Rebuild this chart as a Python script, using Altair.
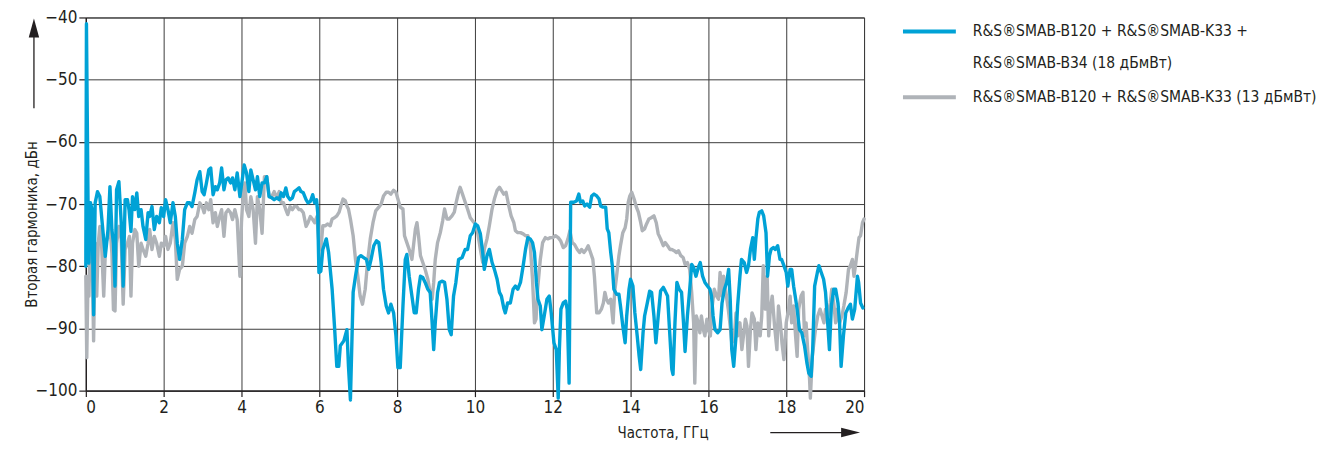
import altair as alt
import pandas as pd

# ---------------- data ----------------
blue_ghz = [0.00, 0.016, 0.057, 0.08, 0.12, 0.16, 0.20, 0.24, 0.30, 0.36, 0.42, 0.50, 0.57, 0.62, 0.67, 0.71, 0.75, 0.79,
            0.85, 0.91, 0.96, 1.01, 1.07, 1.11, 1.16, 1.20, 1.26, 1.31, 1.36, 1.42, 1.47, 1.54, 1.60, 1.64, 1.70, 1.76,
            1.82, 1.89, 1.94, 2.00, 2.05, 2.11, 2.17, 2.24, 2.30, 2.35, 2.41, 2.48, 2.54, 2.61, 2.67, 2.73, 2.80, 2.86,
            2.93, 2.99, 3.04, 3.10, 3.16, 3.21, 3.27, 3.33, 3.38, 3.44, 3.49, 3.55, 3.60, 3.66, 3.72, 3.77, 3.83, 3.89,
            3.96, 4.02, 4.07, 4.13, 4.19, 4.24, 4.30, 4.36, 4.41, 4.47, 4.53, 4.59, 4.65, 4.71, 4.78, 4.84, 4.91, 4.97,
            5.02, 5.08, 5.14, 5.19, 5.25, 5.31, 5.36, 5.42, 5.48, 5.53, 5.59, 5.66, 5.71, 5.77, 5.83, 5.88, 5.93, 5.96,
            5.99, 6.04, 6.09, 6.18, 6.24, 6.33, 6.39, 6.45, 6.50, 6.54, 6.63, 6.71, 6.75, 6.80, 6.87, 6.93, 7.01, 7.07,
            7.14, 7.21, 7.27, 7.33, 7.40, 7.47, 7.53, 7.59, 7.65, 7.72, 7.78, 7.84, 7.91, 7.97, 8.02, 8.08, 8.15, 8.21,
            8.25, 8.31, 8.38, 8.44, 8.49, 8.55, 8.60, 8.66, 8.72, 8.79, 8.85, 8.90, 8.94, 8.98, 9.04, 9.09, 9.15, 9.22,
            9.28, 9.34, 9.39, 9.45, 9.51, 9.58, 9.67, 9.75, 9.81, 9.88, 9.94, 10.01, 10.07, 10.14, 10.20, 10.24, 10.31,
            10.37, 10.44, 10.50, 10.57, 10.63, 10.68, 10.74, 10.78, 10.84, 10.91, 10.98, 11.04, 11.10, 11.17, 11.24,
            11.30, 11.36, 11.42, 11.48, 11.53, 11.58, 11.62, 11.68, 11.72, 11.78, 11.85, 11.91, 11.96, 12.03, 12.09,
            12.14, 12.17, 12.21, 12.27, 12.33, 12.37, 12.42, 12.46, 12.54, 12.61, 12.67, 12.71, 12.77, 12.82, 12.88,
            12.95, 13.00, 13.06, 13.13, 13.19, 13.23, 13.29, 13.36, 13.40, 13.44, 13.49, 13.53, 13.57, 13.64, 13.70,
            13.74, 13.80, 13.86, 13.90, 13.96, 14.00, 14.06, 14.11, 14.17, 14.22, 14.26, 14.32, 14.36, 14.43, 14.49,
            14.54, 14.60, 14.65, 14.71, 14.77, 14.84, 14.89, 14.95, 15.01, 15.06, 15.09, 15.14, 15.19, 15.25, 15.31,
            15.36, 15.40, 15.46, 15.52, 15.57, 15.62, 15.68, 15.74, 15.79, 15.85, 15.91, 15.98, 16.04, 16.08, 16.12,
            16.17, 16.24, 16.30, 16.35, 16.41, 16.47, 16.52, 16.56, 16.60, 16.65, 16.71, 16.75, 16.81, 16.85, 16.92,
            16.98, 17.03, 17.08, 17.14, 17.18, 17.22, 17.27, 17.31, 17.37, 17.42, 17.48, 17.52, 17.57, 17.61, 17.67,
            17.72, 17.78, 17.84, 17.88, 17.94, 18.00, 18.04, 18.10, 18.14, 18.19, 18.23, 18.28, 18.34, 18.40, 18.47,
            18.53, 18.58, 18.64, 18.68, 18.73, 18.80, 18.84, 18.90, 18.96, 19.01, 19.07, 19.11, 19.16, 19.22, 19.27,
            19.33, 19.37, 19.41, 19.47, 19.53, 19.59, 19.65, 19.70, 19.76, 19.83, 19.86, 19.91, 19.97]
blue_db = [-80.0, -41.0, -69.8, -79.5, -69.8, -70.9, -87.8, -69.8, -68.0, -68.8, -73.0, -78.4, -74.1, -67.2, -74.1,
           -76.3, -83.2, -67.7, -66.4, -73.0, -83.2, -69.3, -69.3, -70.9, -74.4, -68.8, -70.9, -68.2, -72.0, -70.9,
           -73.6, -75.7, -71.4, -72.0, -70.4, -74.1, -72.0, -73.0, -70.6, -72.0, -69.3, -70.9, -73.0, -69.8, -72.0,
           -76.3, -78.9, -75.7, -70.9, -69.8, -69.8, -70.4, -68.2, -66.1, -64.8, -68.0, -68.5, -66.6, -64.5, -64.2,
           -68.5, -67.2, -67.7, -66.6, -64.2, -67.7, -66.1, -65.8, -66.6, -65.8, -67.7, -65.0, -68.8, -66.1, -63.7,
           -65.0, -68.0, -64.5, -66.1, -67.7, -65.6, -68.8, -66.6, -66.6, -65.6, -68.8, -69.0, -69.3, -69.0, -69.3,
           -68.2, -68.8, -67.4, -68.8, -69.3, -69.0, -68.0, -67.7, -67.4, -68.0, -68.2, -69.3, -69.8, -69.6, -68.5,
           -69.8, -69.3, -71.4, -81.0, -80.8, -77.3, -75.6, -77.8, -83.7, -89.6, -96.1, -96.1, -92.8, -92.0, -90.2,
           -96.1, -101.5, -84.2, -81.6, -78.6, -78.3, -78.6, -78.9, -80.5, -78.9, -76.7, -75.9, -76.2, -79.4, -83.7,
           -86.4, -87.5, -86.1, -87.5, -91.2, -96.3, -96.3, -86.4, -78.9, -78.1, -81.6, -84.8, -87.5, -87.5, -83.7,
           -81.6, -81.8, -82.6, -83.7, -84.2, -89.1, -93.4, -89.1, -84.2, -82.6, -82.4, -82.6, -85.3, -90.2, -91.0,
           -84.8, -82.6, -78.9, -78.6, -77.3, -77.3, -75.1, -74.6, -73.2, -73.5, -74.8, -77.8, -80.5, -78.3, -77.3,
           -79.4, -80.5, -82.1, -84.2, -84.8, -86.7, -87.5, -85.9, -85.9, -83.7, -83.2, -83.7, -82.6, -79.9, -77.3,
           -75.4, -75.6, -76.2, -77.8, -82.6, -85.3, -86.4, -90.2, -88.0, -85.3, -84.8, -87.5, -92.3, -93.4, -101.2,
           -93.4, -86.9, -85.9, -85.6, -86.9, -98.8, -69.7, -69.7, -69.5, -68.4, -69.7, -69.5, -70.3, -70.0, -70.5,
           -68.7, -68.4, -68.7, -69.2, -70.3, -70.5, -70.5, -74.0, -74.6, -77.8, -79.9, -83.7, -84.5, -84.5, -86.4,
           -89.6, -92.3, -88.0, -83.7, -82.1, -83.2, -87.5, -91.2, -94.5, -96.6, -90.7, -88.0, -85.9, -84.0, -84.2,
           -88.0, -92.3, -88.0, -84.0, -83.4, -84.0, -84.8, -91.2, -96.6, -97.4, -89.1, -82.6, -83.7, -84.2, -89.1,
           -93.7, -88.0, -83.7, -79.7, -80.2, -81.6, -80.2, -79.4, -81.6, -82.6, -83.2, -83.7, -84.8, -88.0, -90.2,
           -90.7, -90.2, -85.9, -83.7, -82.6, -80.5, -85.3, -93.4, -96.1, -91.2, -86.4, -81.6, -78.9, -79.4, -81.0,
           -79.9, -77.3, -75.4, -78.9, -75.6, -72.4, -71.3, -71.1, -71.9, -74.6, -81.6, -78.3, -77.3, -77.0, -77.3,
           -76.7, -78.9, -78.9, -79.9, -81.0, -83.2, -80.5, -80.5, -83.2, -84.8, -86.9, -90.2, -90.7, -92.8, -95.5,
           -97.2, -97.7, -93.4, -83.2, -81.0, -79.9, -81.0, -82.1, -84.2, -89.6, -93.4, -86.4, -83.7, -83.7, -85.9,
           -89.1, -96.1, -91.2, -87.5, -86.7, -86.1, -88.5, -86.9, -81.6, -82.6, -85.9, -86.7]

gray_ghz = [0.00, 0.024, 0.057, 0.08, 0.12, 0.16, 0.20, 0.24, 0.28, 0.32, 0.36, 0.40, 0.46, 0.51, 0.57, 0.62, 0.67, 0.71,
            0.75, 0.79, 0.85, 0.91, 0.96, 1.01, 1.07, 1.12, 1.16, 1.20, 1.26, 1.31, 1.36, 1.42, 1.47, 1.54, 1.60, 1.64,
            1.70, 1.76, 1.82, 1.89, 1.94, 2.00, 2.05, 2.11, 2.17, 2.24, 2.30, 2.35, 2.41, 2.48, 2.54, 2.61, 2.67, 2.73,
            2.80, 2.86, 2.93, 2.99, 3.04, 3.10, 3.16, 3.21, 3.27, 3.33, 3.38, 3.44, 3.49, 3.55, 3.60, 3.66, 3.72, 3.77,
            3.83, 3.89, 3.96, 4.00, 4.04, 4.09, 4.13, 4.19, 4.24, 4.30, 4.36, 4.41, 4.47, 4.53, 4.59, 4.65, 4.71, 4.78,
            4.84, 4.91, 4.97, 5.02, 5.08, 5.14, 5.19, 5.25, 5.31, 5.36, 5.42, 5.48, 5.53, 5.59, 5.66, 5.71, 5.77, 5.83,
            5.88, 5.94, 5.99, 6.04, 6.09, 6.15, 6.21, 6.28, 6.33, 6.39, 6.45, 6.51, 6.57, 6.61, 6.67, 6.71, 6.75, 6.80,
            6.87, 6.93, 6.99, 7.05, 7.11, 7.18, 7.24, 7.31, 7.38, 7.45, 7.53, 7.59, 7.65, 7.72, 7.78, 7.84, 7.91, 7.97,
            8.02, 8.08, 8.15, 8.19, 8.25, 8.31, 8.38, 8.43, 8.47, 8.51, 8.55, 8.60, 8.66, 8.72, 8.79, 8.85, 8.90, 8.94,
            8.98, 9.04, 9.11, 9.17, 9.22, 9.28, 9.34, 9.41, 9.47, 9.52, 9.58, 9.62, 9.68, 9.75, 9.81, 9.88, 9.94, 10.01,
            10.07, 10.14, 10.20, 10.24, 10.31, 10.37, 10.44, 10.50, 10.57, 10.63, 10.68, 10.74, 10.80, 10.87, 10.93,
            11.00, 11.04, 11.10, 11.17, 11.24, 11.30, 11.36, 11.42, 11.48, 11.53, 11.57, 11.61, 11.68, 11.74, 11.81,
            11.87, 11.94, 12.00, 12.07, 12.14, 12.20, 12.27, 12.33, 12.39, 12.44, 12.50, 12.56, 12.63, 12.69, 12.74,
            12.80, 12.86, 12.91, 12.97, 13.03, 13.07, 13.13, 13.19, 13.25, 13.30, 13.34, 13.38, 13.43, 13.49, 13.55,
            13.59, 13.64, 13.70, 13.74, 13.80, 13.86, 13.90, 13.94, 13.98, 14.03, 14.09, 14.15, 14.20, 14.26, 14.30,
            14.36, 14.41, 14.47, 14.53, 14.60, 14.66, 14.71, 14.77, 14.84, 14.89, 14.95, 15.01, 15.06, 15.12, 15.18,
            15.23, 15.29, 15.35, 15.40, 15.46, 15.52, 15.57, 15.62, 15.65, 15.69, 15.74, 15.78, 15.82, 15.87, 15.91,
            15.96, 16.00, 16.05, 16.09, 16.15, 16.21, 16.26, 16.30, 16.35, 16.39, 16.45, 16.51, 16.56, 16.60, 16.66,
            16.71, 16.75, 16.81, 16.86, 16.91, 16.95, 16.99, 17.03, 17.08, 17.12, 17.18, 17.22, 17.27, 17.33, 17.37,
            17.41, 17.46, 17.51, 17.55, 17.59, 17.64, 17.70, 17.76, 17.80, 17.85, 17.89, 17.94, 18.00, 18.06, 18.10,
            18.14, 18.19, 18.24, 18.28, 18.32, 18.38, 18.43, 18.47, 18.51, 18.55, 18.60, 18.62, 18.67, 18.71, 18.75,
            18.81, 18.87, 18.92, 18.97, 19.01, 19.07, 19.13, 19.17, 19.22, 19.27, 19.31, 19.37, 19.43, 19.48, 19.54,
            19.60, 19.65, 19.70, 19.74, 19.78, 19.83, 19.87, 19.91, 19.96, 20.00]
gray_db = [-81.6, -94.7, -81.6, -84.8, -73.0, -76.3, -92.0, -76.3, -84.8, -76.3, -73.6, -75.7, -84.8, -76.3, -75.2,
           -73.6, -77.9, -87.0, -87.2, -76.3, -73.6, -75.7, -86.1, -77.3, -76.3, -75.2, -84.8, -76.3, -74.1, -74.7,
           -80.0, -76.3, -77.3, -78.4, -76.3, -74.1, -77.3, -75.2, -76.3, -78.4, -76.3, -76.8, -75.2, -77.3, -76.3,
           -73.0, -75.7, -82.1, -80.5, -80.0, -76.3, -75.2, -73.6, -74.7, -72.5, -72.0, -69.8, -70.4, -71.4, -69.8,
           -70.9, -69.3, -73.0, -71.4, -73.6, -72.0, -70.9, -75.2, -71.4, -70.9, -71.4, -72.5, -70.9, -72.5, -81.6,
           -73.0, -68.8, -66.6, -70.9, -72.0, -68.8, -70.9, -76.3, -68.8, -70.9, -74.7, -65.6, -65.6, -68.8, -68.8,
           -68.0, -69.0, -68.0, -69.8, -69.8, -70.9, -71.7, -70.4, -70.9, -70.4, -70.4, -70.9, -70.9, -71.4, -73.6,
           -73.0, -72.0, -72.5, -73.0, -72.0, -76.3, -77.3, -73.5, -73.5, -73.2, -73.5, -72.4, -72.2, -71.9, -71.3,
           -70.0, -69.2, -69.5, -70.3, -70.8, -72.4, -75.1, -78.9, -81.6, -84.8, -86.1, -83.7, -79.4, -75.6, -73.0,
           -71.1, -70.5, -70.0, -68.7, -68.1, -68.1, -68.4, -67.8, -68.1, -69.2, -70.5, -70.8, -75.1, -76.2, -77.3,
           -78.9, -76.2, -74.0, -73.0, -75.1, -78.3, -79.4, -80.5, -82.1, -84.2, -85.3, -82.6, -78.9, -76.2, -74.6,
           -72.7, -70.8, -72.4, -72.4, -71.9, -71.3, -69.7, -68.1, -67.3, -68.4, -69.7, -70.8, -72.2, -72.7, -73.2,
           -74.6, -77.3, -79.4, -77.3, -75.6, -73.5, -70.8, -69.2, -67.8, -67.3, -67.8, -68.4, -68.1, -70.3, -71.9,
           -73.0, -74.3, -74.6, -74.6, -74.8, -75.1, -75.1, -76.5, -82.1, -89.1, -88.5, -83.7, -78.9, -76.2, -75.4,
           -75.6, -75.4, -75.4, -75.1, -75.4, -75.9, -77.0, -76.7, -75.6, -74.3, -76.2, -76.5, -77.3, -77.8, -77.3,
           -77.8, -77.3, -76.7, -77.8, -78.9, -81.6, -87.5, -87.5, -86.9, -85.9, -84.2, -85.3, -85.9, -85.3, -89.1,
           -84.2, -81.6, -78.3, -76.7, -74.6, -73.8, -72.4, -69.7, -68.7, -68.1, -69.2, -70.5, -71.3, -73.0, -74.3,
           -74.0, -73.2, -72.4, -72.2, -71.9, -73.0, -74.8, -75.6, -76.7, -76.2, -76.7, -77.3, -77.3, -77.5, -77.8,
           -77.5, -78.3, -78.6, -79.7, -79.4, -80.5, -84.2, -89.1, -98.8, -88.0, -89.1, -90.7, -88.0, -90.2, -91.2,
           -88.5, -90.2, -91.2, -86.9, -83.7, -84.8, -85.3, -81.0, -84.8, -81.6, -84.2, -86.9, -89.6, -92.3, -91.8,
           -87.5, -91.2, -89.1, -93.4, -90.7, -88.5, -89.6, -96.1, -90.2, -87.5, -88.5, -93.4, -89.1, -91.2, -88.0,
           -79.9, -86.9, -81.6, -91.2, -86.9, -84.8, -89.6, -93.4, -86.4, -89.1, -92.3, -95.0, -89.1, -86.9, -84.8,
           -89.1, -86.4, -91.2, -94.5, -86.9, -84.8, -84.2, -91.2, -89.1, -93.4, -98.2, -101.2, -94.5, -92.3, -90.2,
           -88.0, -86.9, -88.0, -89.1, -86.9, -88.0, -85.9, -83.7, -85.9, -89.1, -86.9, -89.1, -88.0, -86.4, -84.2,
           -80.5, -79.9, -78.9, -81.6, -79.9, -77.3, -75.4, -75.1, -73.0, -72.4]

x_ticks = [0, 2, 4, 6, 8, 10, 12, 14, 16, 18, 20]
y_ticks = [-100, -90, -80, -70, -60, -50, -40]

series = ["R&S®SMAB-B120 + R&S®SMAB-K33 + R&S®SMAB-B34 (18 дБмВт)",
          "R&S®SMAB-B120 + R&S®SMAB-K33 (13 дБмВт)"]
legend_lines = ["R&S®SMAB-B120 + R&S®SMAB-K33 +",
                "R&S®SMAB-B34 (18 дБмВт)",
                "R&S®SMAB-B120 + R&S®SMAB-K33 (13 дБмВт)"]

# ---------------- styling ----------------
BLUE = "#00A2D6"
GRAY = "#AFB3B8"
INK = "#231F20"
GRID = "#3C3C3C"
FONT = "DejaVu Sans Condensed, Liberation Sans Narrow, Roboto, sans-serif"

blue_df = pd.DataFrame({"ghz": blue_ghz, "db": blue_db, "series": series[0]})
gray_df = pd.DataFrame({"ghz": gray_ghz, "db": gray_db, "series": series[1]})

x_enc = alt.X("ghz:Q",
              scale=alt.Scale(domain=[0, 20], nice=False, zero=False),
              axis=alt.Axis(values=x_ticks, title="Частота, ГГц", format="d",
                            titleX=578, titleY=47, titleAlign="center",
                            titleBaseline="alphabetic", titleAnchor="start"))
y_enc = alt.Y("db:Q",
              scale=alt.Scale(domain=[-100, -40], nice=False, zero=False),
              axis=alt.Axis(values=y_ticks, title="Вторая гармоника, дБн", format="d",
                            titleAngle=270, titleX=-49, titleY=207, titleAlign="center",
                            titleBaseline="alphabetic", titleAnchor="start"))

gray_line = alt.Chart(gray_df).mark_line(
    color=GRAY, strokeWidth=3.4, strokeJoin="round", strokeCap="round", clip=False
).encode(x=x_enc, y=y_enc, order=alt.Order("ghz:Q"))

blue_line = alt.Chart(blue_df).mark_line(
    color=BLUE, strokeWidth=3.4, strokeJoin="round", strokeCap="round", clip=False
).encode(x=x_enc, y=y_enc, order=alt.Order("ghz:Q"))

one = pd.DataFrame({"k": [0]})
LEG_FS = 15.5

# legend (drawn to the right of the plot area)
leg_blue = alt.Chart(one).mark_rule(color=BLUE, strokeWidth=4).encode(
    x=alt.value(819), x2=alt.value(872), y=alt.value(14))
leg_gray = alt.Chart(one).mark_rule(color=GRAY, strokeWidth=4).encode(
    x=alt.value(819), x2=alt.value(872), y=alt.value(80))
leg_t1 = alt.Chart(one).mark_text(align="left", baseline="middle", font=FONT, fontSize=LEG_FS,
                                  color=INK, text=legend_lines[0]).encode(x=alt.value(889), y=alt.value(14))
leg_t2 = alt.Chart(one).mark_text(align="left", baseline="middle", font=FONT, fontSize=LEG_FS,
                                  color=INK, text=legend_lines[1]).encode(x=alt.value(889), y=alt.value(46))
leg_t3 = alt.Chart(one).mark_text(align="left", baseline="middle", font=FONT, fontSize=LEG_FS,
                                  color=INK, text=legend_lines[2]).encode(x=alt.value(889), y=alt.value(80))

# axis arrows
y_arrow_line = alt.Chart(one).mark_rule(color=INK, strokeWidth=1.3).encode(
    x=alt.value(-52), y=alt.value(16), y2=alt.value(91))
y_arrow_head = alt.Chart(one).mark_point(
    shape="M0,-1L0.55,1L-0.55,1Z", filled=True, color=INK, opacity=1, size=361, strokeWidth=0
).encode(x=alt.value(-52), y=alt.value(10.5))
x_arrow_line = alt.Chart(one).mark_rule(color=INK, strokeWidth=1.3).encode(
    x=alt.value(686), x2=alt.value(760), y=alt.value(416))
x_arrow_head = alt.Chart(one).mark_point(
    shape="M1,0L-1,-0.5L-1,0.5Z", filled=True, color=INK, opacity=1, size=361, strokeWidth=0
).encode(x=alt.value(766.5), y=alt.value(416))

chart = alt.layer(
    gray_line, blue_line, leg_blue, leg_gray, leg_t1, leg_t2, leg_t3,
    y_arrow_line, y_arrow_head, x_arrow_line, x_arrow_head
).properties(
    width=780, height=374,
    autosize=alt.AutoSizeParams(type="none"),
    padding={"left": 78, "top": 9, "right": 470, "bottom": 52},
    background="white",
).configure_view(
    stroke=GRID, strokeWidth=1
).configure_axis(
    grid=True, gridColor=GRID, gridWidth=1, gridOpacity=1,
    domainColor=INK, domainWidth=1.2, tickColor=INK, tickWidth=1.2,
    labelFont=FONT, labelFontSize=17, labelColor=INK,
    titleFont=FONT, titleFontSize=15, titleFontWeight="normal", titleColor=INK,
).configure_axisX(
    tickSize=6, labelPadding=3
).configure_axisY(
    tickSize=7, labelPadding=2
)

chart.save("out.html", embed_options={"renderer": "svg", "actions": False})
